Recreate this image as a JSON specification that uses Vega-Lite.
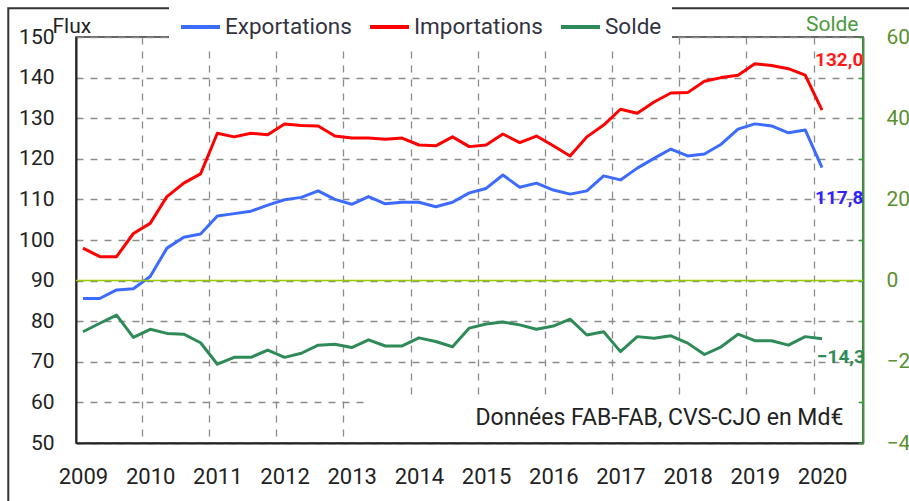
{
  "$schema": "https://vega.github.io/schema/vega-lite/v6.json",
  "width": 787,
  "height": 406,
  "autosize": "none",
  "padding": {"left": 76, "top": 37, "right": 46, "bottom": 58},
  "background": "white",
  "config": {
    "font": "Roboto",
    "view": {"stroke": "#333333", "strokeWidth": 1.5},
    "axis": {"gridDash": [7, 7], "gridColor": "#8c8c8c", "gridWidth": 1.3, "gridCap": "butt"},
    "locale": {"number": {"decimal": ",", "thousands": " ", "grouping": [3], "currency": ["", " €"]}}
  },
  "datasets": {
    "flux": [
      {"t": 2009.00, "Exportations": 85.6, "Importations": 98.0, "Solde": -12.6},
      {"t": 2009.25, "Exportations": 85.6, "Importations": 95.9, "Solde": -10.5},
      {"t": 2009.50, "Exportations": 87.7, "Importations": 95.9, "Solde": -8.5},
      {"t": 2009.75, "Exportations": 88.0, "Importations": 101.6, "Solde": -14.0},
      {"t": 2010.00, "Exportations": 91.0, "Importations": 104.1, "Solde": -12.0},
      {"t": 2010.25, "Exportations": 98.0, "Importations": 110.7, "Solde": -13.0},
      {"t": 2010.50, "Exportations": 100.7, "Importations": 114.0, "Solde": -13.2},
      {"t": 2010.75, "Exportations": 101.5, "Importations": 116.3, "Solde": -15.3},
      {"t": 2011.00, "Exportations": 105.9, "Importations": 126.3, "Solde": -20.6},
      {"t": 2011.25, "Exportations": 106.5, "Importations": 125.4, "Solde": -18.9},
      {"t": 2011.50, "Exportations": 107.1, "Importations": 126.3, "Solde": -18.9},
      {"t": 2011.75, "Exportations": 108.6, "Importations": 125.9, "Solde": -17.1},
      {"t": 2012.00, "Exportations": 109.9, "Importations": 128.6, "Solde": -18.9},
      {"t": 2012.25, "Exportations": 110.5, "Importations": 128.2, "Solde": -17.9},
      {"t": 2012.50, "Exportations": 112.1, "Importations": 128.1, "Solde": -15.9},
      {"t": 2012.75, "Exportations": 110.0, "Importations": 125.6, "Solde": -15.7},
      {"t": 2013.00, "Exportations": 108.8, "Importations": 125.1, "Solde": -16.5},
      {"t": 2013.25, "Exportations": 110.7, "Importations": 125.1, "Solde": -14.6},
      {"t": 2013.50, "Exportations": 108.9, "Importations": 124.8, "Solde": -16.1},
      {"t": 2013.75, "Exportations": 109.3, "Importations": 125.1, "Solde": -16.1},
      {"t": 2014.00, "Exportations": 109.3, "Importations": 123.4, "Solde": -14.1},
      {"t": 2014.25, "Exportations": 108.2, "Importations": 123.2, "Solde": -15.0},
      {"t": 2014.50, "Exportations": 109.3, "Importations": 125.4, "Solde": -16.3},
      {"t": 2014.75, "Exportations": 111.6, "Importations": 123.0, "Solde": -11.7},
      {"t": 2015.00, "Exportations": 112.7, "Importations": 123.4, "Solde": -10.7},
      {"t": 2015.25, "Exportations": 116.0, "Importations": 126.1, "Solde": -10.2},
      {"t": 2015.50, "Exportations": 113.0, "Importations": 124.0, "Solde": -10.9},
      {"t": 2015.75, "Exportations": 114.0, "Importations": 125.6, "Solde": -12.0},
      {"t": 2016.00, "Exportations": 112.3, "Importations": 123.2, "Solde": -11.2},
      {"t": 2016.25, "Exportations": 111.3, "Importations": 120.7, "Solde": -9.5},
      {"t": 2016.50, "Exportations": 112.1, "Importations": 125.4, "Solde": -13.4},
      {"t": 2016.75, "Exportations": 115.8, "Importations": 128.3, "Solde": -12.6},
      {"t": 2017.00, "Exportations": 114.8, "Importations": 132.2, "Solde": -17.5},
      {"t": 2017.25, "Exportations": 117.7, "Importations": 131.2, "Solde": -13.8},
      {"t": 2017.50, "Exportations": 120.1, "Importations": 134.0, "Solde": -14.2},
      {"t": 2017.75, "Exportations": 122.4, "Importations": 136.2, "Solde": -13.6},
      {"t": 2018.00, "Exportations": 120.7, "Importations": 136.3, "Solde": -15.4},
      {"t": 2018.25, "Exportations": 121.2, "Importations": 139.1, "Solde": -18.2},
      {"t": 2018.50, "Exportations": 123.6, "Importations": 140.0, "Solde": -16.3},
      {"t": 2018.75, "Exportations": 127.3, "Importations": 140.6, "Solde": -13.2},
      {"t": 2019.00, "Exportations": 128.6, "Importations": 143.4, "Solde": -14.8},
      {"t": 2019.25, "Exportations": 128.1, "Importations": 143.0, "Solde": -14.8},
      {"t": 2019.50, "Exportations": 126.4, "Importations": 142.2, "Solde": -15.9},
      {"t": 2019.75, "Exportations": 127.1, "Importations": 140.6, "Solde": -13.8},
      {"t": 2020.00, "Exportations": 117.8, "Importations": 132.0, "Solde": -14.3}
    ]
  },
  "data": {"name": "flux"},
  "resolve": {"scale": {"y": "independent"}, "axis": {"x": "independent", "y": "independent"}},
  "layer": [
    {
      "transform": [{"fold": ["Exportations", "Importations"], "as": ["series", "v"]}],
      "layer": [
        {
          "mark": {"type": "line", "strokeWidth": 3, "strokeJoin": "round"},
          "encoding": {
            "x": {
              "field": "t", "type": "quantitative",
              "scale": {"domain": [2008.896, 2020.61], "nice": false, "zero": false},
              "axis": {
                "orient": "bottom", "title": null,
                "values": [2009.875, 2010.875, 2011.875, 2012.875, 2013.875, 2014.875, 2015.875, 2016.875, 2017.875, 2018.875, 2019.875],
                "labels": false, "ticks": false,
                "domain": true, "domainColor": "#222222", "domainWidth": 2,
                "grid": true, "gridDash": [7, 7]
              }
            },
            "y": {
              "field": "v", "type": "quantitative",
              "scale": {"domain": [50, 150], "nice": false, "zero": false},
              "axis": {
                "orient": "left",
                "values": [50, 60, 70, 80, 90, 100, 110, 120, 130, 140, 150],
                "ticks": false, "labelPadding": 22, "labelFontSize": 21, "labelColor": "#222222",
                "labelOverlap": false,
                "domain": true, "domainColor": "#222222", "domainWidth": 2,
                "grid": true, "gridDash": [7, 7],
                "title": "Flux", "titleAngle": 0, "titleX": -24, "titleY": -5,
                "titleAlign": "left", "titleBaseline": "alphabetic",
                "titleFontSize": 21, "titleFontWeight": "normal", "titleColor": "#222222"
              }
            },
            "color": {
              "field": "series", "type": "nominal",
              "scale": {"domain": ["Exportations", "Importations", "Solde"], "range": ["#3d6bff", "#ff0000", "#2e8b57"]},
              "legend": {
                "title": null, "orient": "none", "direction": "horizontal",
                "legendX": 93, "legendY": -41.5,
                "symbolType": "stroke", "symbolSize": 1521, "symbolStrokeWidth": 4,
                "labelFontSize": 22.5, "labelColor": "#333340", "labelOffset": 3,
                "columnPadding": 10, "padding": 10, "fillColor": "white", "labelLimit": 300
              }
            }
          }
        },
        {
          "data": {"values": [{}]},
          "mark": {"type": "rect", "fill": "white"},
          "encoding": {
            "x": {"datum": 2013.27, "type": "quantitative", "axis": {"title": null}},
            "x2": {"datum": 2020.537},
            "y": {"datum": 60.4, "type": "quantitative", "axis": {"title": "Flux"}},
            "y2": {"datum": 51.5}
          }
        },
        {
          "transform": [{"filter": "datum.t === 2020 && datum.series === 'Importations'"}],
          "mark": {"type": "text", "align": "left", "baseline": "middle", "dx": -7, "dy": -50, "fontSize": 19, "fontWeight": "bold", "color": "#ff1a1a"},
          "encoding": {
            "x": {"field": "t", "type": "quantitative", "axis": {"title": null}},
            "y": {"field": "v", "type": "quantitative", "axis": {"title": "Flux"}},
            "text": {"field": "v", "type": "quantitative", "format": ".1f"}
          }
        },
        {
          "transform": [{"filter": "datum.t === 2020 && datum.series === 'Exportations'"}],
          "mark": {"type": "text", "align": "left", "baseline": "middle", "dx": -7, "dy": 30, "fontSize": 19, "fontWeight": "bold", "color": "#3322ff"},
          "encoding": {
            "x": {"field": "t", "type": "quantitative", "axis": {"title": null}},
            "y": {"field": "v", "type": "quantitative", "axis": {"title": "Flux"}},
            "text": {"field": "v", "type": "quantitative", "format": ".1f"}
          }
        },
        {
          "data": {"values": [{"note": "Données FAB-FAB, CVS-CJO en Md€"}]},
          "mark": {"type": "text", "align": "center", "baseline": "middle", "fontSize": 23, "color": "#222222"},
          "encoding": {
            "x": {"datum": 2017.58, "type": "quantitative", "axis": {"title": null}},
            "y": {"datum": 56.2, "type": "quantitative", "axis": {"title": "Flux"}},
            "text": {"field": "note", "type": "nominal"}
          }
        },
        {
          "data": {"values": [{}]},
          "mark": {"type": "rect", "filled": false, "stroke": "#333333", "strokeWidth": 2},
          "encoding": {
            "x": {"datum": 2007.888, "type": "quantitative", "axis": {"title": null}},
            "x2": {"datum": 2021.6},
            "y": {"datum": 157.07, "type": "quantitative", "axis": {"title": "Flux"}},
            "y2": {"datum": 30}
          }
        }
      ]
    },
    {
      "transform": [{"fold": ["Solde"], "as": ["series", "v"]}],
      "layer": [
        {
          "mark": {"type": "line", "strokeWidth": 3, "strokeJoin": "round"},
          "encoding": {
            "x": {
              "field": "t", "type": "quantitative",
              "scale": {"domain": [2008.896, 2020.61], "nice": false, "zero": false},
              "axis": {
                "orient": "bottom", "title": null,
                "values": [2009, 2010, 2011, 2012, 2013, 2014, 2015, 2016, 2017, 2018, 2019, 2020],
                "format": "d", "labelFontSize": 22, "labelColor": "#222222", "labelPadding": 23,
                "labelFlush": false, "labelOverlap": false,
                "ticks": false, "domain": false, "grid": false
              }
            },
            "y": {
              "field": "v", "type": "quantitative",
              "scale": {"domain": [-40, 60], "nice": false, "zero": false},
              "axis": {
                "orient": "right",
                "values": [-40, -30, -20, -10, 0, 10, 20, 30, 40, 50, 60],
                "labelExpr": "datum.value % 20 === 0 ? datum.label : ''",
                "tickSize": -5, "tickColor": "#3a9a3a", "tickWidth": 1.5,
                "labelPadding": 28, "labelFontSize": 21, "labelColor": "#5a9030",
                "labelOverlap": false,
                "domain": true, "domainColor": "#3a9a3a", "domainWidth": 2,
                "grid": false,
                "title": "Solde", "titleAngle": 0, "titleX": -5, "titleY": -7,
                "titleAlign": "right", "titleBaseline": "alphabetic",
                "titleFontSize": 21, "titleFontWeight": "normal", "titleColor": "#4a9a40"
              }
            },
            "color": {"field": "series", "type": "nominal", "legend": null}
          }
        },
        {
          "data": {"values": [{}]},
          "mark": {"type": "rule", "color": "#99cc00", "strokeWidth": 1.5},
          "encoding": {
            "y": {"datum": 0, "type": "quantitative", "axis": {"title": "Solde"}}
          }
        },
        {
          "transform": [{"filter": "datum.t === 2020"}],
          "mark": {"type": "text", "align": "left", "baseline": "middle", "dx": -5, "dy": 18.5, "fontSize": 19, "fontWeight": "bold", "color": "#2e8b57"},
          "encoding": {
            "x": {"field": "t", "type": "quantitative", "axis": {"title": null}},
            "y": {"field": "v", "type": "quantitative", "axis": {"title": "Solde"}},
            "text": {"field": "v", "type": "quantitative", "format": ".1f"}
          }
        }
      ]
    }
  ]
}
